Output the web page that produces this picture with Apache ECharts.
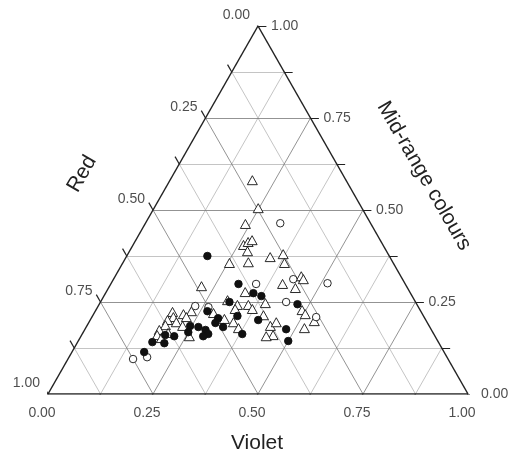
<!DOCTYPE html>
<html>
<head>
<meta charset="utf-8">
<script src="https://cdn.jsdelivr.net/npm/echarts@6/dist/echarts.min.js"></script>
<style>html,body{margin:0;padding:0;background:#fff}#chart{width:529px;height:454px}</style>
</head>
<body>
<div id="chart"></div>
<script>
// each point: [violet, mid-range, red]
var filledPts = [
  [0.192,0.375,0.433],[0.304,0.299,0.397],[0.352,0.274,0.374],[0.375,0.266,0.359],
  [0.472,0.244,0.284],[0.307,0.250,0.443],[0.267,0.225,0.508],[0.302,0.206,0.492],
  [0.345,0.212,0.443],[0.400,0.201,0.399],[0.302,0.193,0.505],[0.326,0.182,0.492],
  [0.288,0.174,0.538],[0.300,0.163,0.537],[0.291,0.157,0.552],[0.381,0.163,0.456],
  [0.479,0.176,0.345],[0.500,0.144,0.356],[0.246,0.185,0.569],[0.267,0.182,0.551],
  [0.250,0.168,0.582],[0.222,0.157,0.621],[0.199,0.160,0.641],[0.208,0.138,0.654],
  [0.178,0.141,0.681],[0.172,0.114,0.714]
];
var openPts = [
  [0.321,0.464,0.215],[0.346,0.299,0.355],[0.428,0.312,0.260],[0.515,0.301,0.184],
  [0.442,0.250,0.308],[0.264,0.236,0.500],[0.231,0.239,0.530],[0.534,0.209,0.257],
  [0.155,0.095,0.750],[0.186,0.100,0.714]
];
var trianglePts = [
  [0.196,0.581,0.223],[0.248,0.505,0.247],[0.239,0.462,0.299],[0.263,0.405,0.332],
  [0.270,0.413,0.317],[0.277,0.418,0.305],[0.281,0.388,0.331],[0.254,0.356,0.390],
  [0.298,0.358,0.344],[0.343,0.372,0.285],[0.370,0.380,0.250],[0.385,0.356,0.259],
  [0.219,0.293,0.488],[0.409,0.299,0.292],[0.443,0.320,0.237],[0.452,0.312,0.236],
  [0.445,0.288,0.267],[0.491,0.228,0.281],[0.504,0.217,0.279],[0.535,0.198,0.267],
  [0.521,0.179,0.300],[0.437,0.185,0.378],[0.446,0.195,0.359],[0.456,0.160,0.384],
  [0.300,0.255,0.445],[0.330,0.242,0.428],[0.330,0.231,0.439],[0.356,0.242,0.402],
  [0.371,0.231,0.398],[0.394,0.247,0.359],[0.406,0.214,0.380],[0.331,0.277,0.392],
  [0.318,0.204,0.478],[0.344,0.195,0.461],[0.364,0.179,0.457],[0.284,0.220,0.496],
  [0.185,0.223,0.592],[0.194,0.209,0.597],[0.214,0.217,0.569],[0.229,0.225,0.546],
  [0.225,0.209,0.566],[0.184,0.201,0.615],[0.208,0.195,0.597],[0.186,0.187,0.627],
  [0.178,0.174,0.648],[0.180,0.160,0.660],[0.203,0.166,0.631],[0.258,0.157,0.585],
  [0.228,0.185,0.587],[0.194,0.152,0.654],[0.441,0.157,0.402]
];
var tickValues = [0, 0.125, 0.25, 0.375, 0.5, 0.625, 0.75, 0.875, 1];
var labelValues = [0, 0.25, 0.5, 0.75, 1];
var tickLabels = ['0.00', '0.25', '0.50', '0.75', '1.00'];

var H = Math.sqrt(3) / 2;
var FONT = '"Liberation Sans", Arial, sans-serif';
// ternary (violet, mid) -> cartesian
function tern(v, m) { return [v + m / 2, m * H]; }

var minor = [], major = [], ticks = [];
tickValues.forEach(function (k) {
  if (k > 0 && k < 1) {
    var arr = (k * 4) % 1 === 0 ? major : minor;
    arr.push({ coords: [tern(0, k), tern(1 - k, k)] });
    arr.push({ coords: [tern(k, 0), tern(k, 1 - k)] });
    arr.push({ coords: [tern(1 - k, 0), tern(0, 1 - k)] });
  }
  var len = 0.02, p;
  p = tern(k, 0);
  ticks.push({ coords: [p, [p[0] - 0.5 * len, p[1] - H * len]] });
  p = tern(1 - k, k);
  ticks.push({ coords: [p, [p[0] + len, p[1]]] });
  p = tern(0, 1 - k);
  ticks.push({ coords: [p, [p[0] - 0.5 * len, p[1] + H * len]] });
});
var edges = [
  { coords: [tern(0, 0), tern(1, 0)] },
  { coords: [tern(1, 0), tern(0, 1)] },
  { coords: [tern(0, 1), tern(0, 0)] }
];

var bottomLab = labelValues.map(function (k, i) { return tern(k, 0).concat([tickLabels[i]]); });
var rightLab = labelValues.map(function (k, i) { return tern(1 - k, k).concat([tickLabels[i]]); });
var leftLab = labelValues.map(function (k, i) { return tern(0, 1 - k).concat([tickLabels[i]]); });

function labSeries(data, align, offset) {
  return {
    type: 'scatter', data: data, symbolSize: 0, silent: true,
    label: {
      show: true, position: 'inside', align: align, verticalAlign: 'middle',
      offset: offset, formatter: function (p) { return p.value[2]; },
      color: '#222', fontSize: 14, fontFamily: FONT
    }
  };
}
function markers(pts, symbol, size, fill) {
  return {
    type: 'scatter', symbol: symbol, symbolSize: size, silent: true,
    data: pts.map(function (p) { return tern(p[0], p[1]); }),
    itemStyle: { color: fill, borderColor: '#111', borderWidth: 0.9, opacity: 1 }
  };
}
function lineSeries(data, color, width) {
  return {
    type: 'lines', coordinateSystem: 'cartesian2d', data: data, silent: true,
    lineStyle: { color: color, width: width, opacity: 1 }
  };
}

var chart = echarts.init(document.getElementById('chart'));
chart.setOption({
  animation: false,
  backgroundColor: '#fff',
  grid: { left: 48, right: 61, top: 26, bottom: 60 },
  xAxis: { type: 'value', min: 0, max: 1, show: false },
  yAxis: { type: 'value', min: 0, max: H, show: false },
  graphic: [
    { type: 'text', x: 257, y: 443, style: { text: 'Violet', font: '21px ' + FONT, fill: '#222', align: 'center', verticalAlign: 'middle' } },
    { type: 'text', x: 82, y: 174, rotation: Math.PI / 3, style: { text: 'Red', font: '21px ' + FONT, fill: '#222', align: 'center', verticalAlign: 'middle' } },
    { type: 'text', x: 424, y: 176, rotation: -Math.PI / 3, style: { text: 'Mid-range colours', font: '21px ' + FONT, fill: '#222', align: 'center', verticalAlign: 'middle' } }
  ],
  series: [
    lineSeries(minor, '#aaa', 0.7),
    lineSeries(major, '#777', 0.8),
    lineSeries(ticks, '#222', 1.2),
    lineSeries(edges, '#222', 1.5),
    labSeries(bottomLab, 'center', [-6, 19]),
    labSeries(rightLab, 'left', [13, 0]),
    labSeries(leftLab, 'right', [-8, -11]),
    markers(trianglePts, 'triangle', [10, 9], '#fff'),
    markers(openPts, 'circle', 7.5, '#fff'),
    markers(filledPts, 'circle', 7.5, '#111')
  ]
});
</script>
</body>
</html>
